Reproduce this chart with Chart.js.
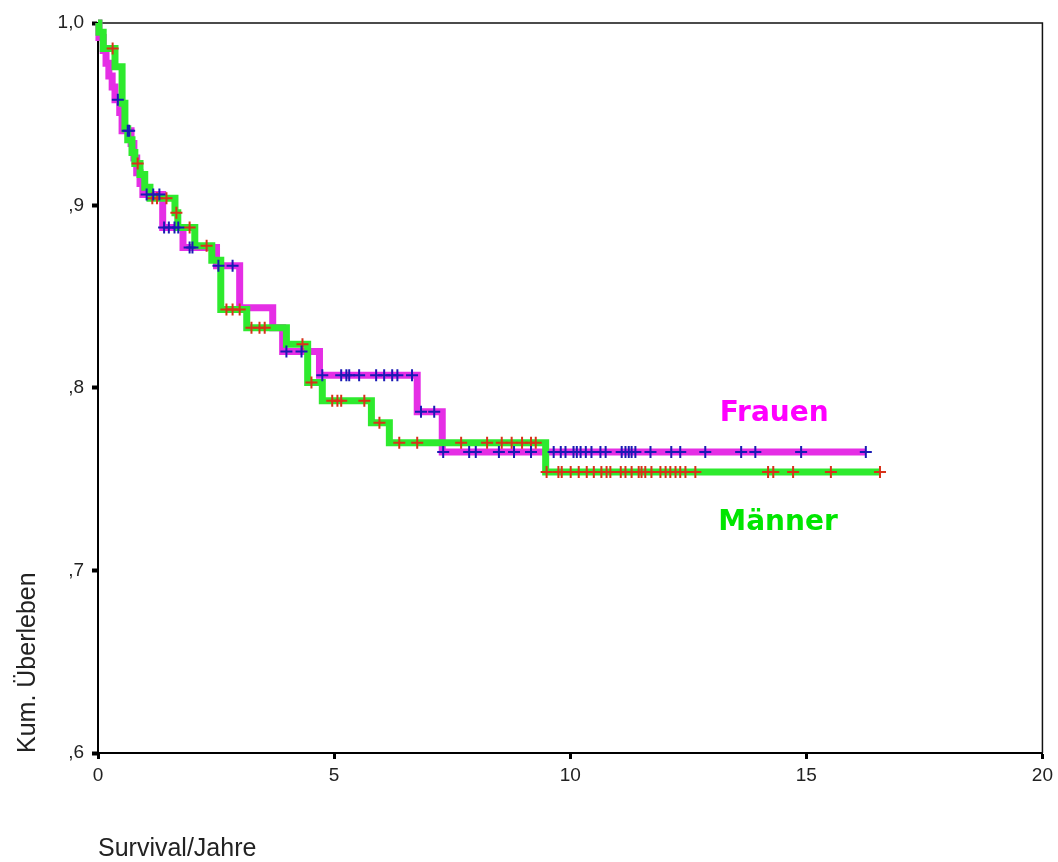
<!DOCTYPE html>
<html>
<head>
<meta charset="utf-8">
<title>Kum. Überleben</title>
<script src="https://cdn.jsdelivr.net/npm/chart.js@4.4.1/dist/chart.umd.min.js"></script>
<style>
  html, body { margin: 0; padding: 0; background: #fff; }
  #wrap { width: 1058px; height: 862px; }
</style>
</head>
<body>
<div id="wrap"><canvas id="kmChart" width="1058" height="862"></canvas></div>
<script>
// ---------- survival data (years / cumulative survival) ----------

// Frauen: event times and survival level after each step
const femaleTimes = [0, 0.02, 0.11, 0.17, 0.23, 0.30, 0.36, 0.46, 0.51, 0.70, 0.76, 0.82, 0.89, 0.95,
                     1.37, 1.80, 2.51, 3.00, 3.70, 3.91, 4.69, 6.76, 7.29, 16.26];
const femaleSurv  = [1.0, 0.992, 0.985, 0.978, 0.971, 0.965, 0.958, 0.951, 0.941, 0.934, 0.926, 0.918, 0.912, 0.906,
                     0.888, 0.877, 0.867, 0.844, 0.833, 0.820, 0.807, 0.787, 0.765, 0.765];
// Frauen: censored observations
const femaleCensored = [0.42, 0.63, 0.66, 1.03, 1.17, 1.30, 1.40, 1.50, 1.62, 1.70, 1.94, 2.00, 2.55, 2.85,
                        3.99, 4.31, 4.75, 5.15, 5.26, 5.32, 5.53, 5.89, 6.06, 6.23, 6.34, 6.65, 6.84, 7.12,
                        7.31, 7.86, 8.00, 8.49, 8.81, 9.17, 9.65, 9.80, 9.90, 10.07, 10.14, 10.22, 10.33,
                        10.45, 10.64, 10.75, 11.09, 11.17, 11.24, 11.30, 11.38, 11.70, 12.14, 12.33, 12.86,
                        13.62, 13.92, 14.89, 16.26];

// Männer: event times and survival level after each step
const maleTimes = [0, 0.02, 0.11, 0.36, 0.51, 0.57, 0.63, 0.72, 0.78, 0.89, 0.99, 1.10, 1.63, 1.69,
                   2.05, 2.41, 2.60, 3.15, 3.99, 4.44, 4.75, 5.79, 6.17, 9.48, 16.56];
const maleSurv  = [1.0, 0.995, 0.986, 0.976, 0.956, 0.942, 0.936, 0.929, 0.923, 0.917, 0.910, 0.904, 0.896, 0.888,
                   0.878, 0.870, 0.843, 0.833, 0.824, 0.803, 0.793, 0.781, 0.770, 0.754, 0.754];
// Männer: censored observations
const maleCensored = [0.31, 0.84, 1.15, 1.25, 1.45, 1.66, 1.94, 2.30, 2.72, 2.85, 3.00, 3.25, 3.42, 3.53,
                      4.33, 4.52, 4.96, 5.07, 5.15, 5.64, 5.96, 6.38, 6.76, 7.69, 8.24, 8.55, 8.76, 8.98,
                      9.17, 9.27, 9.50, 9.75, 9.82, 10.01, 10.18, 10.35, 10.50, 10.66, 10.77, 10.85, 11.07,
                      11.17, 11.30, 11.45, 11.51, 11.59, 11.72, 11.91, 12.02, 12.12, 12.23, 12.33, 12.44,
                      12.65, 14.19, 14.30, 14.72, 15.52, 16.56];

const groupNames = ['Frauen', 'Männer'];
const xTickLabels = ['0', '5', '10', '15', '20'];
const yTickLabels = [',6', ',7', ',8', ',9', '1,0'];

// ---------- helpers ----------

// survival level of a step curve at time t
function survivalAt(times, surv, t) {
    let s = surv[0];
    for (let i = 0; i < times.length; i++) {
        if (times[i] <= t) s = surv[i];
        else break;
    }
    return s;
}

function stepPoints(times, surv) {
    return times.map((t, i) => ({ x: t, y: surv[i] }));
}

function censorPoints(times, surv, censored) {
    return censored.map(t => ({ x: t, y: survivalAt(times, surv, t) }));
}

// ---------- plugins ----------

// closes the plot box on top and right
const framePlugin = {
    id: 'frame',
    beforeDatasetsDraw(chart) {
        const { ctx, chartArea: a } = chart;
        ctx.save();
        ctx.strokeStyle = '#111';
        ctx.lineWidth = 1.5;
        ctx.beginPath();
        ctx.moveTo(a.left, a.top);
        ctx.lineTo(a.right, a.top);
        ctx.lineTo(a.right, a.bottom);
        ctx.stroke();
        ctx.restore();
    }
};

// group names next to the curves
const groupLabelPlugin = {
    id: 'groupLabels',
    afterDatasetsDraw(chart, args, opts) {
        const { ctx, scales } = chart;
        ctx.save();
        ctx.font = opts.font;
        ctx.textAlign = 'center';
        ctx.textBaseline = 'middle';
        opts.items.forEach(item => {
            ctx.fillStyle = item.color;
            ctx.fillText(item.text, scales.x.getPixelForValue(item.x), scales.y.getPixelForValue(item.y));
        });
        ctx.restore();
    }
};

// ---------- chart ----------

const axisFont = { family: "'Liberation Sans', Arial, sans-serif", size: 19 };
const titleFont = { family: "'Liberation Sans', Arial, sans-serif", size: 25, lineHeight: 1.0 };

const ctx = document.getElementById('kmChart').getContext('2d');

new Chart(ctx, {
    type: 'line',
    data: {
        datasets: [
            {
                label: 'Frauen zensiert',
                type: 'scatter',
                data: censorPoints(femaleTimes, femaleSurv, femaleCensored),
                pointStyle: 'cross',
                pointRadius: 6,
                pointBorderWidth: 2,
                borderColor: '#1a1ab4',
                backgroundColor: '#1a1ab4',
                clip: false,
                order: 0
            },
            {
                label: 'Männer zensiert',
                type: 'scatter',
                data: censorPoints(maleTimes, maleSurv, maleCensored),
                pointStyle: 'cross',
                pointRadius: 6,
                pointBorderWidth: 2,
                borderColor: '#d8321a',
                backgroundColor: '#d8321a',
                clip: false,
                order: 1
            },
            {
                label: 'Männer',
                data: stepPoints(maleTimes, maleSurv),
                stepped: 'before',
                borderColor: '#2eea2e',
                borderWidth: 7,
                pointRadius: 0,
                fill: false,
                clip: false,
                order: 2
            },
            {
                label: 'Frauen',
                data: stepPoints(femaleTimes, femaleSurv),
                stepped: 'before',
                borderColor: '#e52ee5',
                borderWidth: 7,
                pointRadius: 0,
                fill: false,
                clip: false,
                order: 3
            }
        ]
    },
    options: {
        responsive: false,
        animation: false,
        layout: {
            padding: { top: 23, right: 13, left: 0, bottom: 0 }
        },
        plugins: {
            legend: { display: false },
            tooltip: { enabled: false },
            groupLabels: {
                font: "bold 28px 'DejaVu Sans', Verdana, sans-serif",
                items: [
                    { text: groupNames[0], x: 14.32, y: 0.786, color: '#ff00ff' },
                    { text: groupNames[1], x: 14.4, y: 0.726, color: '#00e600' }
                ]
            }
        },
        scales: {
            x: {
                type: 'linear',
                min: 0,
                max: 20,
                afterFit: scale => { scale.height = 109; },
                border: { display: true, color: '#000', width: 2 },
                grid: {
                    drawOnChartArea: false,
                    drawTicks: true,
                    tickLength: 6,
                    tickWidth: 3,
                    tickColor: '#000'
                },
                ticks: {
                    stepSize: 5,
                    color: '#222',
                    font: axisFont,
                    padding: 5,
                    maxRotation: 0,
                    callback: (value, index) => xTickLabels[index]
                },
                title: {
                    display: true,
                    text: 'Survival/Jahre',
                    align: 'start',
                    color: '#222',
                    font: titleFont,
                    padding: { top: 0, bottom: 0 }
                }
            },
            y: {
                type: 'linear',
                min: 0.6,
                max: 1.0,
                afterFit: scale => { scale.width = 98; },
                border: { display: true, color: '#000', width: 2 },
                grid: {
                    drawOnChartArea: false,
                    drawTicks: true,
                    tickLength: 6,
                    tickWidth: 4,
                    tickColor: '#000'
                },
                ticks: {
                    stepSize: 0.1,
                    color: '#222',
                    font: axisFont,
                    padding: 8,
                    callback: (value, index) => yTickLabels[index]
                },
                title: {
                    display: true,
                    text: 'Kum. Überleben',
                    align: 'start',
                    color: '#222',
                    font: titleFont,
                    padding: { top: 16, bottom: 0 }
                }
            }
        }
    },
    plugins: [framePlugin, groupLabelPlugin]
});
</script>
</body>
</html>
